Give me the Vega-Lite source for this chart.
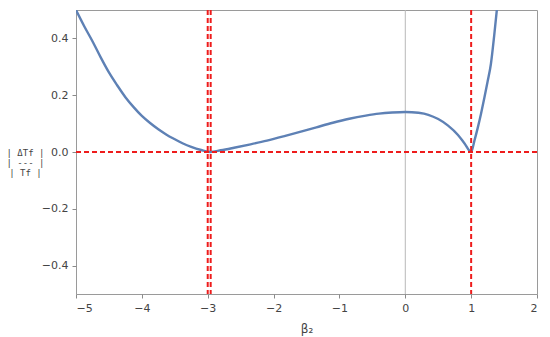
{
  "$schema": "https://vega.github.io/schema/vega-lite/v6.json",
  "width": 461,
  "height": 284,
  "autosize": {"type": "none"},
  "padding": {"left": 76, "top": 10, "right": 13, "bottom": 43},
  "background": "white",
  "config": {
    "view": {"stroke": "#9a9a9a", "strokeWidth": 1},
    "axis": {"domain": false, "grid": false, "labelColor": "#444", "labelFont": "DejaVu Sans", "labelFontSize": 11, "titleFont": "DejaVu Sans", "titleFontWeight": "normal", "titleColor": "#444"}
  },
  "datasets": {
    "curve": [
      {"b": -5.0, "v": 0.5},
      {"b": -4.875, "v": 0.443},
      {"b": -4.75, "v": 0.39},
      {"b": -4.625, "v": 0.333},
      {"b": -4.5, "v": 0.28},
      {"b": -4.375, "v": 0.235},
      {"b": -4.25, "v": 0.193},
      {"b": -4.125, "v": 0.158},
      {"b": -4.0, "v": 0.127},
      {"b": -3.875, "v": 0.102},
      {"b": -3.75, "v": 0.08},
      {"b": -3.625, "v": 0.061},
      {"b": -3.5, "v": 0.045},
      {"b": -3.375, "v": 0.03},
      {"b": -3.25, "v": 0.018},
      {"b": -3.1, "v": 0.007},
      {"b": -2.96, "v": 0.0},
      {"b": -2.8, "v": 0.006},
      {"b": -2.6, "v": 0.015},
      {"b": -2.35, "v": 0.027},
      {"b": -2.1, "v": 0.04},
      {"b": -1.85, "v": 0.055},
      {"b": -1.6, "v": 0.071},
      {"b": -1.35, "v": 0.087},
      {"b": -1.1, "v": 0.103},
      {"b": -0.85, "v": 0.117},
      {"b": -0.6, "v": 0.128},
      {"b": -0.4, "v": 0.135},
      {"b": -0.2, "v": 0.139},
      {"b": 0.0, "v": 0.141},
      {"b": 0.2, "v": 0.138},
      {"b": 0.35, "v": 0.131},
      {"b": 0.5, "v": 0.116},
      {"b": 0.65, "v": 0.093},
      {"b": 0.8, "v": 0.06},
      {"b": 0.9, "v": 0.03},
      {"b": 1.0, "v": 0.0},
      {"b": 1.05, "v": 0.04},
      {"b": 1.1, "v": 0.085},
      {"b": 1.15, "v": 0.135},
      {"b": 1.2, "v": 0.19},
      {"b": 1.25, "v": 0.248},
      {"b": 1.3, "v": 0.31},
      {"b": 1.35, "v": 0.41},
      {"b": 1.39, "v": 0.5}
    ],
    "vlines": [{"b": -3.0}, {"b": -2.955}, {"b": 1.0}],
    "hlines": [{"v": 0}],
    "zero": [{"b": 0}]
  },
  "layer": [
    {
      "data": {"name": "zero"},
      "mark": {"type": "rule", "color": "#b8b8b8", "strokeWidth": 1},
      "encoding": {
        "x": {"field": "b", "type": "quantitative", "scale": {"domain": [-5, 2], "nice": false},
          "axis": {"values": [-5, -4, -3, -2, -1, 0, 1, 2], "format": "d", "tickColor": "#8a8a8a", "tickSize": 4, "labelPadding": 4, "title": "β₂", "titleFontSize": 12, "titlePadding": 10}}
      }
    },
    {
      "data": {"name": "curve"},
      "mark": {"type": "line", "color": "#5e81b5", "strokeWidth": 2.4, "interpolate": "monotone", "clip": true},
      "encoding": {
        "x": {"field": "b", "type": "quantitative"},
        "y": {"field": "v", "type": "quantitative", "scale": {"domain": [-0.5, 0.5], "nice": false, "zero": false},
          "axis": {"values": [-0.4, -0.2, 0, 0.2, 0.4], "format": ".1f", "tickColor": "#8a8a8a", "tickSize": 4, "labelPadding": 4,
            "title": ["| ΔTf |", "| --- |", "|  Tf |"], "titleFont": "DejaVu Sans Mono", "titleAngle": 0, "titleAlign": "center", "titleBaseline": "middle", "titleX": -51, "titleY": 142, "titleFontSize": 9, "titleLineHeight": 10}}
      }
    },
    {
      "data": {"name": "vlines"},
      "mark": {"type": "rule", "color": "#ee1c1c", "strokeWidth": 2, "strokeDash": [5, 3]},
      "encoding": {
        "x": {"field": "b", "type": "quantitative"}
      }
    },
    {
      "data": {"name": "hlines"},
      "mark": {"type": "rule", "color": "#ee1c1c", "strokeWidth": 2, "strokeDash": [5, 3]},
      "encoding": {
        "y": {"field": "v", "type": "quantitative"}
      }
    }
  ]
}
